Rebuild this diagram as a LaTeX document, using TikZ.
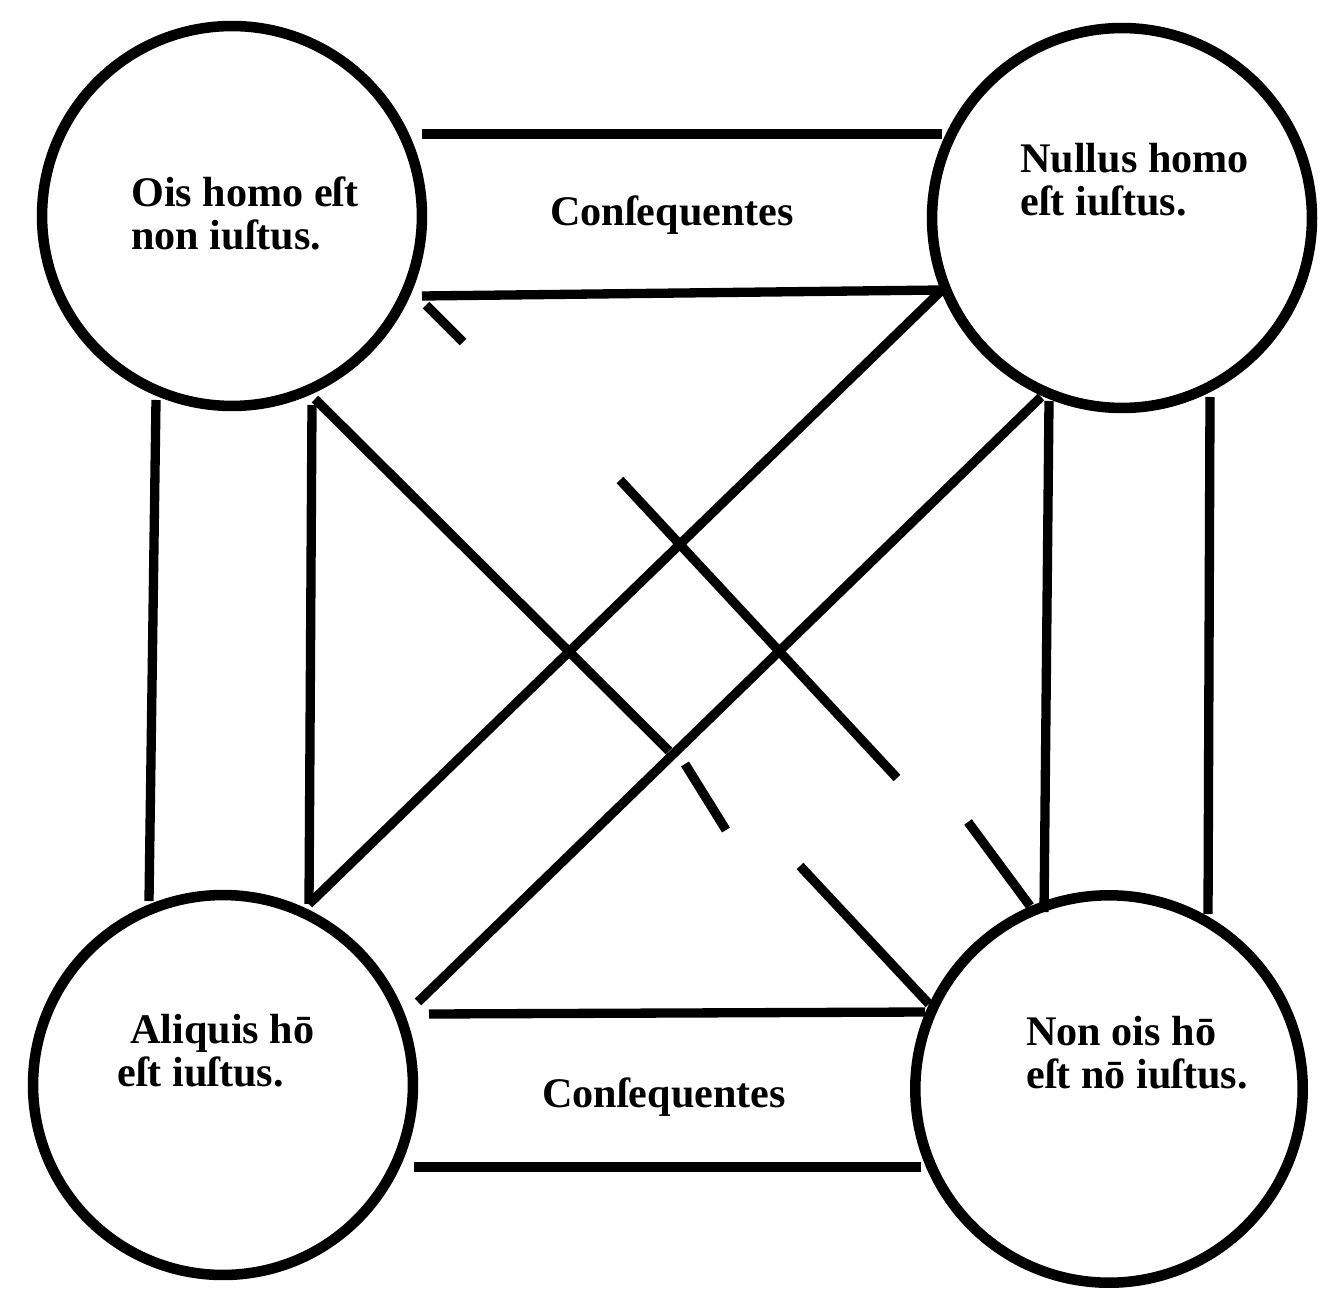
\documentclass[tikz,border=0pt]{standalone}
\usepackage{fontspec}
\setmainfont{Liberation Serif}
\tikzstyle{line}=[draw, line width=5.3pt]
\tikzstyle{disc}=[draw, circle, line width=6pt, inner sep=0pt, minimum size=7.6cm]
\tikzstyle{word}=[align=left, inner sep=0pt, font=\bfseries\fontsize{24}{24.5}\selectfont]

\begin{document}
\begin{tikzpicture}[x=0.02cm, y=-0.02cm]
    \path[use as bounding box, fill=white] (0,0) rectangle (1344,1310);
    % propositions
    \node[disc] (ois) at (232,216) {};
    \node[disc] (nullus) at (1122,218) {};
    \node[disc] (aliquis) at (223,1085) {};
    \node[disc, minimum size=7.75cm] (nonois) at (1109,1089) {};
    \node[word, anchor=west] (ois-t) at (131,213) {Ois homo eſt \\ non iuſtus.};
    \node[word, anchor=west] (nullus-t) at (1020,180) {Nullus homo \\ eſt iuſtus.};
    \node[word, anchor=west] (aliquis-t) at (117,1051) {\hspace*{0.26cm}Aliquis hō \\ eſt iuſtus.};
    \node[word, anchor=west] (nonois-t) at (1026,1053) {Non ois hō \\ eſt nō iuſtus.};
    \node[word, anchor=base] (cons-top) at (672,226) {Conſequentes};
    \node[word, anchor=base] (cons-bot) at (664,1107) {Conſequentes};
    % ends of the bands
    \coordinate (tu1) at (422,134); \coordinate (tu2) at (942,134);
    \coordinate (tl1) at (422,296); \coordinate (tl2) at (942,290);
    \coordinate (lo1) at (156,400); \coordinate (lo2) at (149,901);
    \coordinate (li1) at (312,405); \coordinate (li2) at (309,904);
    \coordinate (ri1) at (1049,401); \coordinate (ri2) at (1044,912);
    \coordinate (ro1) at (1210,397); \coordinate (ro2) at (1208,914);
    \coordinate (bu1) at (429,1014); \coordinate (bu2) at (925,1012);
    \coordinate (bl1) at (414,1167); \coordinate (bl2) at (921,1167);
    \coordinate (b1) at (1041,397); \coordinate (b2) at (418,1002);
    \coordinate (c1) at (315,399); \coordinate (c2) at (669,751);
    \coordinate (c3) at (685,764); \coordinate (c4) at (726,830);
    \coordinate (c5) at (800,866); \coordinate (c6) at (929,1004);
    \coordinate (d1) at (426,305); \coordinate (d2) at (463,342);
    \coordinate (d3) at (620,480); \coordinate (d4) at (897,778);
    \coordinate (d5) at (968,822); \coordinate (d6) at (1030,906);
    % bands
    \path[line] (tu1) -- (tu2);
    \path[line] (tl1) -- (tl2);
    \path[line] (lo1) -- (lo2);
    \path[line] (li1) -- (li2);
    \path[line] (ri1) -- (ri2);
    \path[line] (ro1) -- (ro2);
    \path[line] (bu1) -- (bu2);
    \path[line] (bl1) -- (bl2);
    \path[line] (tl2) -- (li2);
    \path[line] (b1) -- (b2);
    \path[line] (c1) -- (c2);
    \path[line] (c3) -- (c4);
    \path[line] (c5) -- (c6);
    \path[line] (d1) -- (d2);
    \path[line] (d3) -- (d4);
    \path[line] (d5) -- (d6);
\end{tikzpicture}
\end{document}
